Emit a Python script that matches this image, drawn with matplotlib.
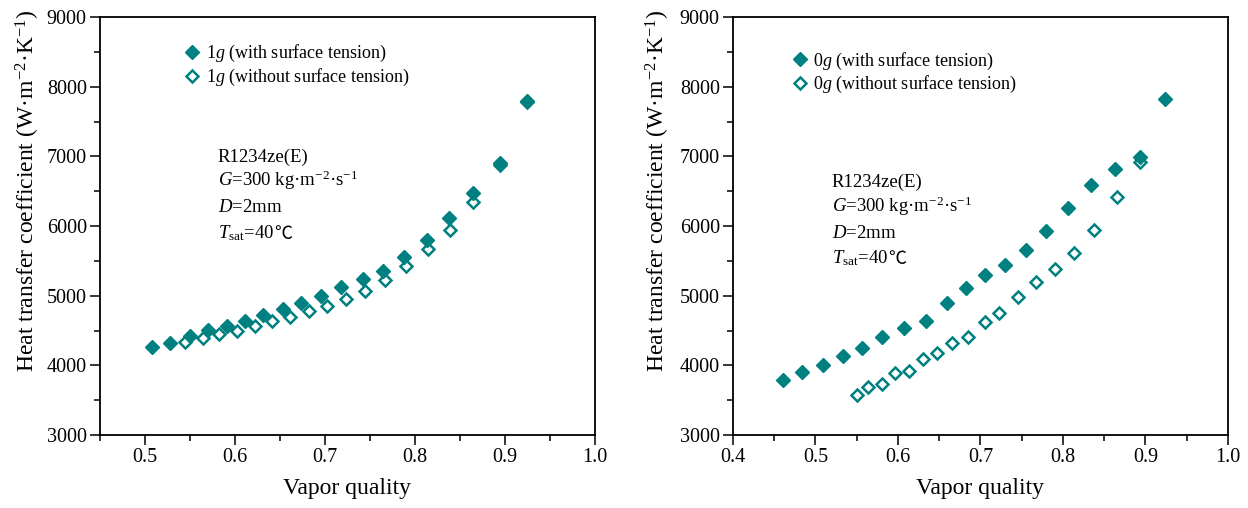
import matplotlib
matplotlib.use('Agg')
from matplotlib import pyplot as plt
from matplotlib.ticker import MultipleLocator

plt.rcParams['font.family'] = ['Liberation Serif', 'DejaVu Serif']
plt.rcParams['mathtext.fontset'] = 'custom'
plt.rcParams['mathtext.rm'] = 'Liberation Serif'
plt.rcParams['mathtext.it'] = 'Liberation Serif:italic'

TEAL = '#008080'

# 1g, with surface tension
x_1g_with = [0.508, 0.528, 0.550, 0.570, 0.591, 0.611, 0.631, 0.653, 0.673, 0.696,
             0.718, 0.742, 0.764, 0.788, 0.813, 0.838, 0.865, 0.894, 0.925]
h_1g_with = [4260, 4316, 4421, 4507, 4565, 4641, 4722, 4804, 4899, 4999,
             5120, 5235, 5358, 5559, 5799, 6110, 6469, 6900, 7790]
# 1g, without surface tension
x_1g_without = [0.545, 0.564, 0.582, 0.602, 0.622, 0.641, 0.661, 0.682, 0.702, 0.723,
                0.745, 0.767, 0.790, 0.814, 0.839, 0.865, 0.894, 0.925]
h_1g_without = [4339, 4388, 4450, 4497, 4565, 4636, 4698, 4780, 4852, 4956,
                5063, 5225, 5430, 5670, 5943, 6349, 6880, 7780]

# 0g, with surface tension
x_0g_with = [0.461, 0.484, 0.509, 0.534, 0.556, 0.581, 0.607, 0.634, 0.659, 0.683,
             0.705, 0.730, 0.755, 0.780, 0.806, 0.834, 0.863, 0.893, 0.924]
h_0g_with = [3789, 3900, 4005, 4134, 4253, 4402, 4531, 4641, 4899, 5106,
             5297, 5440, 5655, 5928, 6254, 6588, 6813, 6995, 7818]
# 0g, without surface tension
x_0g_without = [0.550, 0.564, 0.581, 0.596, 0.613, 0.630, 0.647, 0.666, 0.685, 0.705,
                0.723, 0.745, 0.767, 0.790, 0.814, 0.838, 0.865, 0.894]
h_0g_without = [3574, 3693, 3727, 3886, 3923, 4086, 4181, 4325, 4402, 4627,
                4747, 4985, 5200, 5378, 5608, 5943, 6412, 6923]

panels = [
    dict(rect=[0.0801, 0.1437, 0.3966, 0.8228], g='1', xlim=(0.45, 1.0),
         xw=x_1g_with, hw=h_1g_with, xo=x_1g_without, ho=h_1g_without,
         leg=(0.168, 0.937), ylab_x=-0.118,
         note=(0.238, [0.654, 0.596, 0.534, 0.471])),
    dict(rect=[0.5873, 0.1437, 0.3966, 0.8228], g='0', xlim=(0.4, 1.0),
         xw=x_0g_with, hw=h_0g_with, xo=x_0g_without, ho=h_0g_without,
         leg=(0.117, 0.92), ylab_x=-0.123,
         note=(0.200, [0.593, 0.533, 0.471, 0.411])),
]

fig = plt.figure(figsize=(12.48, 5.08), dpi=100)

for p in panels:
    ax = fig.add_axes(p['rect'])
    ax.plot(p['xo'], p['ho'], linestyle='none', marker='D', ms=6.3,
            mfc='white', mec=TEAL, mew=1.8,
            label='%s$g$ (without surface tension)' % p['g'])
    ax.plot(p['xw'], p['hw'], linestyle='none', marker='D', ms=6.8,
            color=TEAL, mec=TEAL, mew=1.0,
            label='%s$g$ (with surface tension)' % p['g'])
    ax.set_xlim(*p['xlim'])
    ax.set_ylim(3000, 9000)
    ax.xaxis.set_major_locator(MultipleLocator(0.1))
    ax.xaxis.set_minor_locator(MultipleLocator(0.05))
    ax.yaxis.set_major_locator(MultipleLocator(1000))
    ax.yaxis.set_minor_locator(MultipleLocator(500))
    ax.tick_params(which='both', direction='out', width=1.1, labelsize=14.5,
                   top=False, right=False)
    ax.tick_params(which='major', length=7, pad=2.5)
    ax.tick_params(which='minor', length=4)
    for s in ax.spines.values():
        s.set_linewidth(1.3)
    ax.set_xlabel('Vapor quality', fontsize=17, labelpad=8)
    ax.set_ylabel('Heat transfer coefficient (W·m$^{-2}$·K$^{-1}$)', fontsize=17)
    ax.yaxis.set_label_coords(p['ylab_x'], 0.584)

    handles, labels = ax.get_legend_handles_labels()
    ax.legend(handles[::-1], labels[::-1], loc='upper left', bbox_to_anchor=p['leg'],
              frameon=False, fontsize=13, numpoints=1, handlelength=1.0,
              handletextpad=0.25, labelspacing=0.15, borderpad=0, borderaxespad=0)

    nx, ny = p['note']
    lines = ['R1234ze(E)', '$G$=300 kg·m$^{-2}$·s$^{-1}$', '$D$=2mm',
             '$T_{\\mathrm{sat}}$=40']
    for line, yy in zip(lines, ny):
        t = ax.text(nx, yy, line, transform=ax.transAxes, fontsize=13.5,
                    va='baseline')
    # degree Celsius sign is missing from Liberation Serif
    ax.annotate('℃', xy=(1, 0), xycoords=t, xytext=(0, 0), textcoords='offset points',
                fontsize=13, family=['Noto Sans CJK SC', 'DejaVu Serif'],
                va='bottom', ha='left')

fig.savefig('out.png', dpi=100)
